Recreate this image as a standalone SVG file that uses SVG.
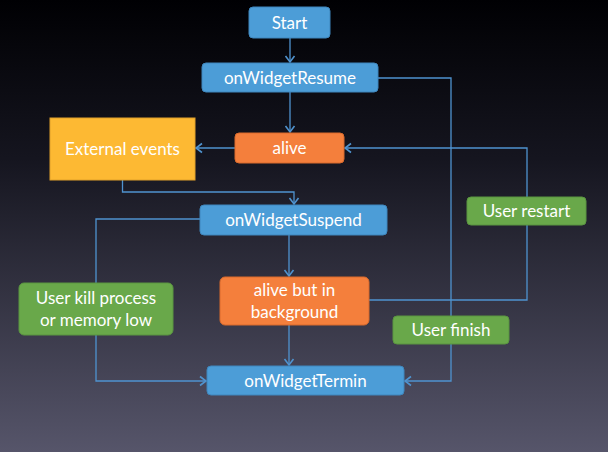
<svg xmlns="http://www.w3.org/2000/svg" width="608" height="452" viewBox="0 0 608 452">
<defs>
<linearGradient id="bg" x1="0" y1="0" x2="0" y2="1">
<stop offset="0" stop-color="#000003"/>
<stop offset="0.35" stop-color="#15151f"/>
<stop offset="1" stop-color="#56556a"/>
</linearGradient>
<marker id="arr" markerUnits="userSpaceOnUse" markerWidth="12" markerHeight="12" refX="7" refY="5" orient="auto" viewBox="0 0 12 10">
<path d="M1,0.5 L7,5 L1,9.5" fill="none" stroke="#4f93cf" stroke-width="1.6"/>
</marker>
<style>
.blue{fill:#4c9dd7;stroke:#3f86bd;stroke-width:1}
.orange{fill:#f47f3c;stroke:#d96a2c;stroke-width:1}
.yellow{fill:#fdb933;stroke:#e0a02a;stroke-width:1}
.green{fill:#69a84a;stroke:#5a9540;stroke-width:1}
.t{fill:#ffffff;font-family:Lato,"Open Sans","Liberation Sans",sans-serif;font-size:17px;text-anchor:middle;dominant-baseline:central}
.c{fill:none;stroke:#4f93cf;stroke-width:1.3}
</style>
</defs>
<rect width="608" height="452" fill="url(#bg)"/>
<g id="connectors">
<path class="c" d="M290,38 V62" marker-end="url(#arr)"/>
<path class="c" d="M290,92 V132" marker-end="url(#arr)"/>
<path class="c" d="M235,148 H196" marker-end="url(#arr)"/>
<path class="c" d="M122.5,180 V192 H294 V204" marker-end="url(#arr)"/>
<path class="c" d="M289,235 V276" marker-end="url(#arr)"/>
<path class="c" d="M289,325 V365" marker-end="url(#arr)"/>
<path class="c" d="M200,219 H96 V283"/>
<path class="c" d="M96,335 V381 H206" marker-end="url(#arr)"/>
<path class="c" d="M378,78 H451 V381 H405" marker-end="url(#arr)"/>
<path class="c" d="M369,300 H527 V225"/>
<path class="c" d="M527,197 V148 H345" marker-end="url(#arr)"/>
</g>
<g id="start"><rect class="blue" x="249" y="7" width="81" height="31" rx="4"/><text class="t" x="289.5" y="22">Start</text></g>
<g id="onWidgetResume"><rect class="blue" x="202" y="63" width="176" height="29" rx="4"/><text class="t" x="290" y="77">onWidgetResume</text></g>
<g id="alive"><rect class="orange" x="235" y="133" width="109" height="30" rx="4"/><text class="t" x="289.5" y="147.5">alive</text></g>
<g id="externalEvents"><rect class="yellow" x="50" y="118" width="145" height="62"/><text class="t" x="122.5" y="148.5">External events</text></g>
<g id="onWidgetSuspend"><rect class="blue" x="200" y="205" width="187" height="30" rx="4"/><text class="t" x="293.5" y="219.5">onWidgetSuspend</text></g>
<g id="userRestart"><rect class="green" x="467" y="197" width="119" height="28" rx="4"/><text class="t" x="526.5" y="210.5">User restart</text></g>
<g id="aliveBackground"><rect class="orange" x="220" y="277" width="149" height="48" rx="5"/><text class="t" x="294.5" y="289.5">alive but in</text><text class="t" x="294.5" y="311.5">background</text></g>
<g id="userKill"><rect class="green" x="19" y="283" width="154" height="52" rx="5"/><text class="t" x="96" y="297.5">User kill process</text><text class="t" x="96" y="319.5">or memory low</text></g>
<g id="userFinish"><rect class="green" x="393" y="316" width="116" height="28" rx="4"/><text class="t" x="451" y="329.5">User finish</text></g>
<g id="onWidgetTermin"><rect class="blue" x="207" y="366" width="197" height="29" rx="4"/><text class="t" x="305.5" y="380">onWidgetTermin</text></g>
</svg>
